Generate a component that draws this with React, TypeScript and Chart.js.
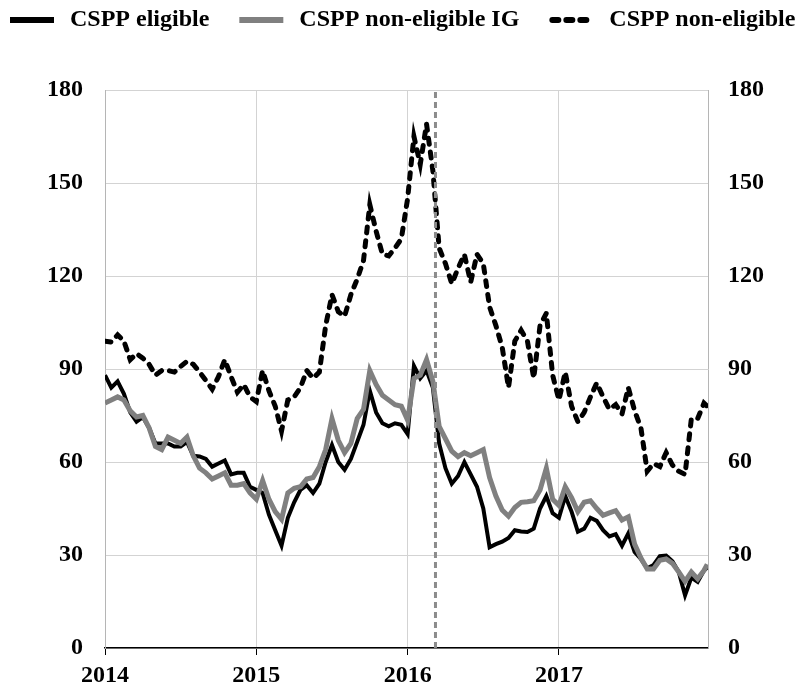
import React, { useEffect, useRef } from 'react';
import { Chart, registerables } from 'chart.js';

Chart.register(...registerables);

// ---- data ----
const xStart = 2014;
const xEnd = 2017.985;
const yearTicks = [2014, 2015, 2016, 2017];
const valueTicks = [0, 30, 60, 90, 120, 150, 180];
const csppAnnouncement = 2016.184;

// half-monthly observation dates (decimal years)
const dates: number[] = Array.from({ length: 96 }, (_, i) => 2014 + i / 24).concat([2017.98]);

const seriesLabels = ['CSPP eligible', 'CSPP non-eligible IG', 'CSPP non-eligible'];

const eligible = [
  88, 84, 86, 82, 76, 73, 74.5, 71, 66, 66, 66, 65, 65, 66.5, 62, 61.8, 61, 58.5, 59.5, 60.5, 56, 56.5, 56.5, 52,
  51, 50, 43, 38, 33, 42, 47, 51, 52.5, 50, 53, 60, 65.5, 60, 57.5, 61, 66.5, 72, 83, 76, 72.5, 71.5, 72.5, 72,
  69, 91, 87, 89.5, 84, 66, 58, 53, 55.5, 60, 56, 52, 45, 32.5, 33.5, 34.3, 35.5, 38, 37.6, 37.4, 38.5, 45, 49, 43.5,
  42, 49, 44, 37.5, 38.5, 42, 41, 38, 36, 36.7, 33, 37, 31, 28.7, 25.7, 26.8, 29.6, 29.8, 28, 24.5, 17, 22.7, 21.3, 25,
  26,
];

const nonEligibleIG = [
  79, 80, 81, 80, 76.5, 74.5, 75, 71, 65, 64, 68, 67, 66, 68, 62, 58, 56.5, 54.5, 55.5, 56.5, 52.5, 52.5, 53, 50,
  48, 54, 48, 44, 41.5, 50, 51.5, 52, 54.5, 55, 58.5, 64, 74, 67, 63, 66, 74, 77, 89.5, 85, 81.5, 80, 78.5, 78,
  73.5, 87, 88, 93, 86, 71.5, 67.5, 63.5, 61.7, 63, 62, 63, 64, 55, 49, 44.5, 42.5, 45.3, 47, 47.2, 47.5, 51, 58, 48,
  46, 52, 48.5, 44, 47, 47.5, 45, 42.8, 43.6, 44.3, 41.3, 42.3, 33.5, 29, 25.5, 25.5, 28.3, 28.7, 27.3, 24.5, 21.5, 24.5, 22.3, 25,
  27,
];

const nonEligible = [
  99, 98.7, 101, 99, 93, 95, 93.5, 91.5, 88, 89.5, 89.5, 89, 90.8, 92.5, 91.5, 89, 86.3, 83.5, 87.5, 93, 87.5, 82.5, 85, 81,
  79.5, 89.5, 83, 78, 70, 80, 81, 84, 89.5, 87, 89, 104, 114, 108.5, 107, 114, 119, 125, 143, 134.5, 127, 126.5, 129, 132,
  145, 165, 156, 169, 154, 129, 124, 117.5, 122.5, 127, 118, 127, 124, 110, 104, 97, 84, 99, 102.5, 99, 87, 104, 108, 88,
  80, 89, 78, 73, 76, 81, 85.5, 81, 77, 78.5, 75.5, 84, 76.5, 71, 57, 59.5, 58.5, 63, 59, 57, 56, 74, 74, 79,
  78,
];

const FONT = '"Liberation Serif", "Times New Roman", serif';

const toPoints = (vals: number[]) => dates.map((d, i) => ({ x: d, y: vals[i] }));

const topLegend = {
  id: 'topLegend',
  afterDraw(chart: any) {
    const ctx = chart.ctx as CanvasRenderingContext2D;
    ctx.save();
    ctx.font = `bold 24px ${FONT}`;
    ctx.textBaseline = 'middle';
    ctx.textAlign = 'left';
    const lineLen = 44;
    const gap = 16;
    const spacing = 30;
    const y = 20;
    let x = 10;
    chart.data.datasets.forEach((ds: any) => {
      if (!ds.inLegend) return;
      ctx.save();
      ctx.strokeStyle = ds.borderColor;
      ctx.lineWidth = 6;
      ctx.lineCap = ds.borderCapStyle || 'butt';
      ctx.setLineDash(ds.borderDash || []);
      ctx.beginPath();
      ctx.moveTo(x + (ds.borderDash ? 3 : 0), y);
      ctx.lineTo(x + lineLen, y);
      ctx.stroke();
      ctx.restore();
      ctx.fillStyle = '#000';
      ctx.fillText(ds.label, x + lineLen + gap, y);
      x += lineLen + gap + ctx.measureText(ds.label).width + spacing;
    });
    ctx.restore();
  },
};

export default function App() {
  const canvasRef = useRef<HTMLCanvasElement | null>(null);

  useEffect(() => {
    if (!canvasRef.current) return;
    const tickFont = { family: FONT, size: 24, weight: 'bold' as const };
    const chart = new Chart(canvasRef.current, {
      type: 'line',
      data: {
        datasets: [
          {
            label: seriesLabels[0],
            data: toPoints(eligible),
            borderColor: '#000000',
            borderWidth: 4,
            pointRadius: 0,
            tension: 0,
            order: 2,
            inLegend: true,
          } as any,
          {
            label: seriesLabels[1],
            data: toPoints(nonEligibleIG),
            borderColor: '#808080',
            borderWidth: 5,
            pointRadius: 0,
            tension: 0,
            order: 1,
            inLegend: true,
          } as any,
          {
            label: seriesLabels[2],
            data: toPoints(nonEligible),
            borderColor: '#000000',
            borderWidth: 5,
            borderDash: [6, 8],
            borderCapStyle: 'round',
            pointRadius: 0,
            tension: 0,
            order: 3,
            inLegend: true,
          } as any,
          {
            label: 'CSPP announcement',
            data: [
              { x: csppAnnouncement, y: 0 },
              { x: csppAnnouncement, y: 180 },
            ],
            borderColor: '#8c8c8c',
            borderWidth: 3,
            borderDash: [6, 4],
            pointRadius: 0,
            order: 0,
            inLegend: false,
          } as any,
        ],
      },
      options: {
        animation: false,
        responsive: true,
        maintainAspectRatio: false,
        layout: { padding: { top: 90, left: 0, right: 0, bottom: 0 } },
        plugins: {
          legend: { display: false },
          tooltip: { enabled: false },
          title: { display: false },
        },
        scales: {
          x: {
            type: 'linear',
            min: xStart,
            max: xEnd,
            afterBuildTicks: (s: any) => {
              s.ticks = yearTicks.map((v) => ({ value: v }));
            },
            ticks: {
              callback: (v: any) => String(v),
              font: { family: FONT, size: 24, weight: 'bold' },
              color: '#000',
              padding: 6,
              maxRotation: 0,
              autoSkip: false,
            },
            grid: { color: '#d3d3d3', lineWidth: 1, tickColor: '#000', tickLength: 7, drawTicks: true },
            border: { color: '#000', width: 1.5 },
            afterFit: (s: any) => {
              s.height = 40;
            },
          },
          y: {
            position: 'left',
            min: 0,
            max: 180,
            afterBuildTicks: (s: any) => {
              s.ticks = valueTicks.map((v) => ({ value: v }));
            },
            ticks: { font: tickFont, color: '#000', padding: 22 },
            grid: { color: '#d3d3d3', lineWidth: 1, drawTicks: false },
            border: { color: '#b5b5b5', width: 1 },
            afterFit: (s: any) => {
              s.width = 105;
            },
          },
          y2: {
            position: 'right',
            min: 0,
            max: 180,
            afterBuildTicks: (s: any) => {
              s.ticks = valueTicks.map((v) => ({ value: v }));
            },
            ticks: { font: tickFont, color: '#000', padding: 20 },
            grid: { drawOnChartArea: false, drawTicks: false },
            border: { color: '#b5b5b5', width: 1 },
            afterFit: (s: any) => {
              s.width = 95;
            },
          },
        },
      } as any,
      plugins: [topLegend],
    });
    return () => chart.destroy();
  }, []);

  return (
    <div style={{ position: 'fixed', left: 0, top: 0, width: 803, height: 688, background: '#fff' }}>
      <canvas ref={canvasRef} />
    </div>
  );
}
